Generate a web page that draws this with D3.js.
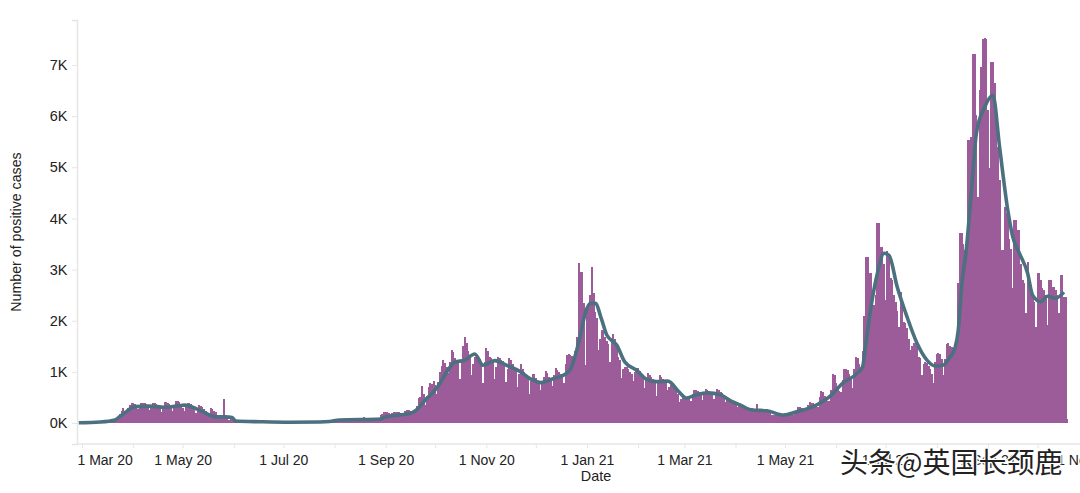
<!DOCTYPE html>
<html>
<head>
<meta charset="utf-8">
<script src="https://cdn.jsdelivr.net/npm/d3@7/dist/d3.min.js"></script>
<style>
  html, body { margin: 0; padding: 0; background: #fff; overflow: hidden; }
  text { font-family: "Liberation Sans", Arial, sans-serif; fill: #222; }
</style>
</head>
<body>
<div id="chart"></div>
<script>
// first bar is 28 Feb 2020, one row per week
var firstDay = "2020-02-28";
var dailyCases = [
  2,3,4,5,5,4,3,
  5,8,10,14,12,12,10,
  15,20,28,35,35,30,30,
  40,55,70,110,170,230,290,
  230,240,300,350,390,395,380,
  350,270,340,400,400,385,370,
  340,255,330,385,395,380,350,
  330,220,320,415,410,395,380,
  300,240,340,435,430,420,350,
  290,230,320,390,385,370,340,
  300,190,280,350,340,310,280,
  240,130,200,290,270,240,210,
  100,90,130,140,470,110,90,
  60,70,80,70,60,40,30,
  30,28,35,30,25,22,20,
  18,20,25,22,20,18,16,
  15,15,18,16,15,14,12,
  12,12,15,15,13,12,12,
  10,12,14,14,12,12,10,
  10,12,15,14,13,12,10,
  12,14,16,16,15,13,12,
  14,18,22,30,35,30,28,
  30,38,48,50,48,45,45,
  45,50,55,60,60,55,50,
  50,60,70,75,80,120,65,
  60,75,90,100,105,100,90,
  95,150,180,210,215,210,195,
  170,190,210,225,225,215,205,
  180,200,230,245,250,240,230,
  225,260,340,480,500,725,560,
  350,520,700,780,770,820,740,
  560,800,1000,1120,1230,1180,1100,
  975,1200,1430,1380,1280,1240,1200,
  860,1200,1500,1690,1560,1400,1280,
  940,1150,1290,1300,1290,1250,1200,
  780,1200,1470,1400,1300,1270,1230,
  860,1100,1290,1270,1240,1210,1170,
  800,1050,1270,1230,1150,1080,1040,
  710,960,1150,1060,1000,960,900,
  570,820,960,950,890,850,800,
  645,800,900,1020,980,900,850,
  725,940,1070,1040,1000,960,900,
  780,1150,1330,1340,1330,1320,1150,
  1400,1680,3130,2950,2950,2350,1130,
  2200,2350,2500,3050,2540,2170,2050,
  1430,1650,1820,1800,1680,1600,1550,
  1190,1600,1740,1650,1500,1300,1230,
  880,1050,1100,1090,1050,1000,950,
  820,1000,1075,1070,1010,960,900,
  680,880,980,940,900,860,820,
  530,800,940,900,870,840,780,
  645,700,740,720,700,650,560,
  410,470,500,490,480,480,470,
  430,560,645,640,630,600,560,
  450,600,660,640,630,610,590,
  470,600,660,640,610,580,530,
  410,470,490,460,430,400,370,
  320,340,350,330,310,290,270,
  250,270,290,280,270,370,260,
  220,250,255,250,240,220,200,
  150,160,165,160,160,150,140,
  130,170,195,190,180,170,160,
  190,260,310,310,300,280,260,
  250,350,410,400,390,370,340,
  320,500,625,600,520,470,440,
  430,650,955,930,780,680,620,
  600,850,1055,1060,1040,950,880,
  680,1050,1290,1270,1150,1080,1400,
  2100,3240,3240,2930,2930,2500,2300,
  2500,3910,3910,3440,3440,3100,2400,
  3360,3300,2830,2800,2500,2360,2200,
  1880,2560,2300,1980,1955,1850,1650,
  1430,1500,1560,1560,1500,1300,1270,
  940,1150,1190,1170,1120,1050,950,
  780,1200,1350,1370,1350,1250,940,
  1250,1545,1560,1500,1480,1465,1400,
  1600,2740,3715,3715,3500,3380,3380,
  5530,5530,5600,7215,7215,6020,4420,
  6510,6960,7500,7530,7500,6120,4985,
  7060,7060,6650,5790,5400,4750,3380,
  3380,4220,4100,4030,3600,3400,2640,
  3970,3970,3770,3770,3100,2800,2740,
  2150,3150,2900,2700,2500,2370,1880,
  2930,2930,2800,2640,2600,2500,1920,
  2800,2800,2660,2660,2600,2500,2150,
  2890,2890,2460,2460,80
];

// rolling average, days counted from 1 Mar 2020
var avgDays = [-2,11,20,23,26,32,41,50,59,62,72,81,87,91,93,108,126,144,150,156,181,183,193,199,202,208,213,217,221,226,232,238,243,250,258,264,272,278,285,292,296,299,302,305,308,311,315,318,324,329,336,342,348,355,362,366,372,379,387,393,399,406,415,425,433,443,453,461,470,473,475,478,482,486,489,494,500,506,512,517,522,526,529,531,533,536,539,542,547,552,556,561,564,568,573,576,581,585,590,595];
var avgValues = [5,20,60,130,200,320,330,310,340,350,240,120,120,110,40,25,15,20,30,60,80,110,160,190,240,450,610,780,1000,1190,1230,1350,1130,1220,1120,1035,860,790,860,940,1055,1330,1720,2150,2340,2340,2010,1720,1525,1190,1035,860,810,820,600,490,550,590,550,435,350,255,240,156,220,320,515,780,980,1100,1560,2250,2930,3320,3280,2660,2070,1560,1230,1115,1135,1290,1465,1820,2660,3440,4555,5670,6180,6410,5400,4160,3640,3320,2930,2500,2370,2480,2440,2560];

var yTicks = [0, 1000, 2000, 3000, 4000, 5000, 6000, 7000];
var xTickStart = "2020-03-01";
var xTickEnd = "2021-11-01";
var yTitle = "Number of positive cases";
var xTitle = "Date";
var watermark = "头条@英国长颈鹿";

var svgWidth = 1080;
var svgHeight = 493;
var barColor = "#9b5b99";
var lineColor = "#4b7080";
var axisColor = "#e6e6e6";

var svg = d3.select("#chart")
  .append("svg")
  .attr("width", svgWidth)
  .attr("height", svgHeight)
  .style("display", "block");

// the reference is a soft jpeg, a small blur keeps the daily bars from striping
svg.append("defs")
  .append("filter")
  .attr("id", "soft")
  .append("feGaussianBlur")
  .attr("stdDeviation", 0.45);

var parseDay = d3.utcParse("%Y-%m-%d");
var day0 = parseDay(xTickStart);

var xScale = d3.scaleUtc()
  .domain([day0, d3.utcDay.offset(day0, 549)])
  .range([82, 988]);

var yScale = d3.scaleLinear()
  .domain([-410, 7880])
  .range([444, 20]);

var barData = dailyCases.map(function(v, i) {
  return { date: d3.utcDay.offset(parseDay(firstDay), i), value: v };
});
var avgData = avgDays.map(function(d, i) {
  return { date: d3.utcDay.offset(day0, d), value: avgValues[i] };
});

// bars
svg.append("g")
  .attr("filter", "url(#soft)")
  .attr("shape-rendering", "crispEdges")
  .selectAll("rect")
  .data(barData)
  .enter()
  .append("rect")
  .attr("x", d => xScale(d.date) - 1)
  .attr("width", 2)
  .attr("y", d => yScale(d.value))
  .attr("height", d => yScale(0) - yScale(d.value))
  .attr("fill", barColor);

// rolling average
var avgLine = d3.line()
  .x(d => xScale(d.date))
  .y(d => yScale(d.value))
  .curve(d3.curveMonotoneX);

svg.append("path")
  .datum(avgData)
  .attr("d", avgLine)
  .attr("fill", "none")
  .attr("stroke", lineColor)
  .attr("stroke-width", 3.6)
  .attr("stroke-linejoin", "round");

// y axis
var yAxis = svg.append("g")
  .attr("transform", "translate(77, 0)")
  .call(d3.axisLeft(yScale).tickValues(yTicks).tickSize(5).tickFormat(d => (d / 1000) + "K"));
yAxis.select(".domain").attr("stroke", axisColor).attr("stroke-width", 1.5);
yAxis.selectAll(".tick line").attr("stroke", axisColor);
yAxis.selectAll(".tick text").attr("font-size", 14.5).attr("dx", -1.5);

// x axis, monthly ticks with a label on every second one
var months = d3.utcMonth.range(day0, d3.utcDay.offset(parseDay(xTickEnd), 1));
var xAxis = svg.append("g")
  .attr("transform", "translate(0, 444)")
  .call(d3.axisBottom(xScale)
    .tickValues(months)
    .tickSize(4)
    .tickPadding(7)
    .tickFormat((d, i) => i % 2 === 0 ? d3.utcFormat("%-d %b %y")(d) : ""));
xAxis.select(".domain").attr("d", "M77,0H1080").attr("stroke", axisColor).attr("stroke-width", 1.5);
xAxis.selectAll(".tick line").attr("stroke", axisColor);
xAxis.selectAll(".tick text").attr("font-size", 14);

// first label is pushed inside the plot, last one runs off the page
xAxis.selectAll(".tick text")
  .filter((d, i) => i === 0)
  .attr("text-anchor", "start")
  .attr("x", -5);
xAxis.selectAll(".tick text")
  .filter((d, i) => i === months.length - 1)
  .attr("x", -4);

// axis titles
svg.append("text")
  .attr("transform", "translate(21, 232) rotate(-90)")
  .attr("text-anchor", "middle")
  .attr("font-size", 14.2)
  .text(yTitle);

svg.append("text")
  .attr("x", 596)
  .attr("y", 481)
  .attr("text-anchor", "middle")
  .attr("font-size", 14.4)
  .text(xTitle);

// watermark sits over the axis labels
svg.append("text")
  .attr("x", 840)
  .attr("y", 473)
  .attr("font-size", 28)
  .style("font-family", '"Noto Sans CJK SC", sans-serif')
  .style("fill", "#222")
  .attr("stroke", "#fff")
  .attr("stroke-width", 2.5)
  .attr("paint-order", "stroke")
  .text(watermark);
</script>
</body>
</html>
